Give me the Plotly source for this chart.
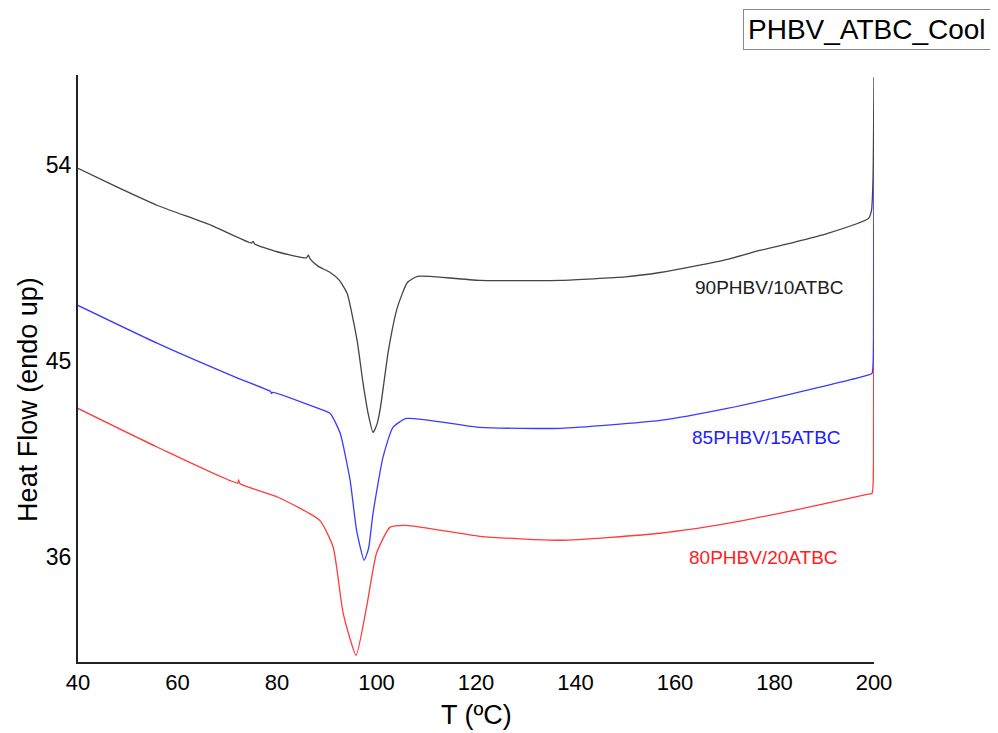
import plotly.graph_objects as go

# DSC cooling curves
t_90 = [40, 48, 56, 66.8, 74.9, 75.2, 75.5, 80, 85.9, 86.3, 86.7, 88.3, 90.7, 92.5, 94.1,
        96.1, 97.3, 98.4, 99.3, 100.1, 100.8, 102.4, 104.2, 106.2, 108.2, 110.8, 120.8,
        137, 150, 157, 163.7, 170.5, 177, 183.9, 190.7, 198.9, 199.5, 199.8, 200]
hf_90 = [53.82, 52.95, 52.12, 51.21, 50.4, 50.48, 50.36, 50.0, 49.72, 49.84, 49.66, 49.33,
         49.05, 48.7, 48.09, 45.94, 43.97, 42.5, 41.72, 42.1, 42.87, 45.48, 47.45, 48.59,
         48.87, 48.87, 48.69, 48.69, 48.85, 49.05, 49.33, 49.65, 50.06, 50.43, 50.84,
         51.53, 51.9, 53.3, 58.0]

t_85 = [40, 56, 72.2, 78.7, 78.9, 79.1, 88.3, 90.7, 92.7, 94.7, 96, 97.5, 98.4, 99.3,
        101.3, 103.3, 106, 120.8, 137, 157, 170.5, 183.9, 198.6, 199.6, 199.9, 200]
hf_85 = [47.54, 45.8, 44.2, 43.6, 43.5, 43.56, 42.82, 42.59, 41.68, 39.52, 37.23, 35.86,
         36.4, 38.01, 40.58, 41.95, 42.36, 41.95, 41.91, 42.27, 42.82, 43.51, 44.33,
         44.43, 45.94, 56.5]

t_80 = [40, 56, 72.1, 72.3, 72.5, 80.2, 88.6, 91.3, 93.3, 95.9, 98, 100, 102.7, 106,
        120.8, 137, 157, 170.5, 183.9, 198.6, 199.6, 199.9, 200]
hf_80 = [42.82, 41.04, 39.4, 39.55, 39.38, 38.75, 37.69, 36.46, 33.43, 31.51, 33.71,
         36.18, 37.37, 37.46, 36.96, 36.78, 37.1, 37.55, 38.15, 38.88, 38.93, 40.44, 51.2]

labels = ["80PHBV/20ATBC", "85PHBV/15ATBC", "90PHBV/10ATBC"]
label_x = [177.7, 178.4, 179.0]
label_y = [35.99, 41.49, 48.37]
colors = ["#ff3b3b", "#3b3bff", "#444444"]
label_colors = ["#ff2020", "#2020ff", "#202020"]

fig = go.Figure()
series = [(t_80, hf_80), (t_85, hf_85), (t_90, hf_90)]
for (t, hf), name, c in zip(series, labels, colors):
    fig.add_trace(go.Scatter(x=t, y=hf, mode="lines", name=name,
                             line=dict(color=c, width=1.3, shape="spline", smoothing=0.5)))

for name, x, y, c in zip(labels, label_x, label_y, label_colors):
    fig.add_annotation(x=x, y=y, text=name, showarrow=False,
                       font=dict(family="Liberation Sans, Arial, sans-serif", size=19, color=c))

# title box in the top right corner
fig.add_annotation(xref="paper", yref="paper", x=1.147, y=1.112, xanchor="right", yanchor="top",
                   text="PHBV_ATBC_Cool", showarrow=False,
                   font=dict(family="Liberation Sans, Arial, sans-serif", size=28, color="black"),
                   bordercolor="#888888", borderwidth=1, borderpad=4, bgcolor="white")

# axis titles placed as annotations to match the original position
fig.add_annotation(xref="paper", yref="paper", x=0.5, y=-0.09, xanchor="center", yanchor="middle",
                   text="T (ºC)", showarrow=False,
                   font=dict(family="Liberation Sans, Arial, sans-serif", size=27, color="black"))
fig.add_annotation(xref="paper", yref="paper", x=-0.063, y=0.448, xanchor="center", yanchor="middle",
                   text="Heat Flow (endo up)", textangle=-90, showarrow=False,
                   font=dict(family="Liberation Sans, Arial, sans-serif", size=27, color="black"))

fig.update_layout(
    width=990, height=725,
    margin=dict(l=70, r=124, t=67, b=71),
    paper_bgcolor="white", plot_bgcolor="white",
    showlegend=False,
    font=dict(family="Liberation Sans, Arial, sans-serif", color="black"),
)
fig.update_xaxes(range=[40, 200], tickvals=[40, 60, 80, 100, 120, 140, 160, 180, 200],
                 showgrid=False, zeroline=False, showline=True, linecolor="#222222", linewidth=2,
                 ticks="", tickfont=dict(size=22))
fig.update_yaxes(range=[31.2, 58.1], tickvals=[36, 45, 54],
                 showgrid=False, zeroline=False, showline=True, linecolor="#222222", linewidth=2,
                 ticks="", ticklabelstandoff=0, tickfont=dict(size=23))

fig.write_html("out.html")
